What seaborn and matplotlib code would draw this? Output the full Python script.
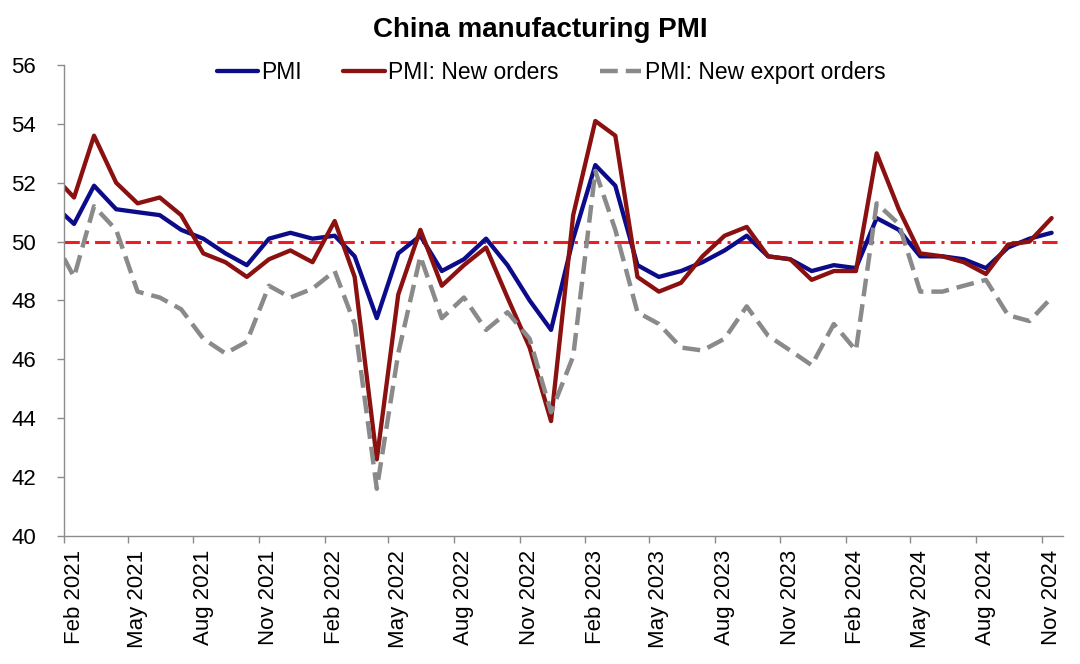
import matplotlib
matplotlib.use("Agg")
import matplotlib.pyplot as plt
import matplotlib.dates as mdates
import pandas as pd
import seaborn as sns

# monthly readings, Jan 2021 .. Nov 2024
pmi = [51.3, 50.6, 51.9, 51.1, 51.0, 50.9, 50.4, 50.1, 49.6, 49.2, 50.1, 50.3,
       50.1, 50.2, 49.5, 47.4, 49.6, 50.2, 49.0, 49.4, 50.1, 49.2, 48.0, 47.0,
       50.1, 52.6, 51.9, 49.2, 48.8, 49.0, 49.3, 49.7, 50.2, 49.5, 49.4, 49.0,
       49.2, 49.1, 50.8, 50.4, 49.5, 49.5, 49.4, 49.1, 49.8, 50.1, 50.3]
new_orders = [52.3, 51.5, 53.6, 52.0, 51.3, 51.5, 50.9, 49.6, 49.3, 48.8, 49.4, 49.7,
              49.3, 50.7, 48.8, 42.6, 48.2, 50.4, 48.5, 49.2, 49.8, 48.1, 46.4, 43.9,
              50.9, 54.1, 53.6, 48.8, 48.3, 48.6, 49.5, 50.2, 50.5, 49.5, 49.4, 48.7,
              49.0, 49.0, 53.0, 51.1, 49.6, 49.5, 49.3, 48.9, 49.9, 50.0, 50.8]
export_orders = [50.2, 48.8, 51.2, 50.4, 48.3, 48.1, 47.7, 46.7, 46.2, 46.6, 48.5, 48.1,
                 48.4, 49.0, 47.2, 41.6, 46.2, 49.5, 47.4, 48.1, 47.0, 47.6, 46.7, 44.2,
                 46.1, 52.4, 50.4, 47.6, 47.2, 46.4, 46.3, 46.7, 47.8, 46.8, 46.3, 45.8,
                 47.2, 46.3, 51.3, 50.6, 48.3, 48.3, 48.5, 48.7, 47.5, 47.3, 48.1]
threshold = 50

# Excel-style date axis: values sit mid-month, ticks at month start
months = pd.date_range("2021-01-01", periods=len(pmi), freq="MS") + pd.Timedelta(days=14)
df = pd.DataFrame({"date": months, "pmi": pmi, "new": new_orders, "export": export_orders})

sns.set_style("white")
plt.rcParams["font.family"] = ["Liberation Sans", "DejaVu Sans"]
plt.rcParams["text.color"] = "black"
plt.rcParams["xtick.labelcolor"] = "black"
plt.rcParams["ytick.labelcolor"] = "black"

fig = plt.figure(figsize=(10.8, 6.64), dpi=100)
ax = fig.add_axes([0.0593, 0.193, 0.925, 0.709])

sns.lineplot(data=df, x="date", y="pmi", ax=ax, color="#0c0c8a", lw=3.1, label="PMI")
sns.lineplot(data=df, x="date", y="new", ax=ax, color="#8b1111", lw=3.1, label="PMI: New orders")
sns.lineplot(data=df, x="date", y="export", ax=ax, color="#8a8a8a", lw=3.2,
             ls=(0, (4, 1.8)), label="PMI: New export orders")
ax.axhline(threshold, color="#ee1c25", lw=2.2, ls=(0, (5, 2, 1, 2)), zorder=1)

ax.set_xlim(pd.Timestamp("2021-02-01"), pd.Timestamp("2024-12-01"))
ax.set_ylim(40, 56)
ax.set_yticks(range(40, 57, 2))
ax.set_xlabel("")
ax.set_ylabel("")

# tick marks at month start, labels centred under mid-month
tick_dates = pd.date_range("2021-02-01", "2024-11-01", freq="3MS")
ax.set_xticks(tick_dates)
ax.set_xticklabels([])
ax.xaxis.set_minor_locator(matplotlib.ticker.FixedLocator(
    mdates.date2num(tick_dates + pd.Timedelta(days=14))))
ax.xaxis.set_minor_formatter(matplotlib.ticker.FixedFormatter(
    [d.strftime("%b %Y") for d in tick_dates]))
ax.tick_params(axis="x", which="major", direction="out", length=5, width=1,
               color="#8c8c8c", bottom=True)
ax.tick_params(axis="x", which="minor", length=0, pad=10, labelsize=16,
               labelrotation=90, bottom=True, labelcolor="black")
ax.tick_params(axis="y", direction="out", length=5, width=1, color="#8c8c8c",
               pad=15, labelsize=16, left=True, labelcolor="black")

sns.despine(ax=ax)
for side in ("left", "bottom"):
    ax.spines[side].set_color("#8c8c8c")
    ax.spines[side].set_linewidth(1)

leg = ax.legend(loc="center", bbox_to_anchor=(0.4875, 0.985), ncol=3, frameon=False,
                fontsize=16.5, handlelength=1.8, handletextpad=0.15, columnspacing=1.8)
for t in leg.get_texts():
    t.set_color("black")

fig.text(0.5, 0.955, "China manufacturing PMI", ha="center", va="center",
         fontsize=20, fontweight="bold", color="black")

fig.savefig("out.png", dpi=100)
